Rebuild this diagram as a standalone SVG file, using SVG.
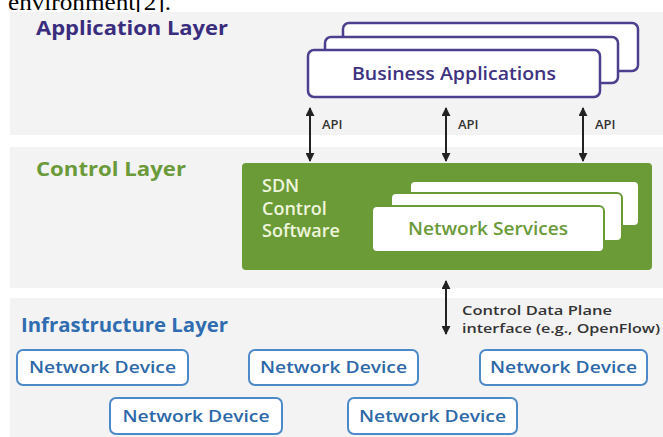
<svg xmlns="http://www.w3.org/2000/svg" width="663" height="437" viewBox="0 0 663 437">
<style>
.panel{fill:#f3f3f3}
.layer{font-family:"Open Sans","Liberation Sans",sans-serif;font-weight:700;font-size:19px}
.biz{fill:#fff;stroke:#4b3f8e;stroke-width:2.5}
.ns{fill:#fff;stroke:#6b9b37;stroke-width:2}
.dev{fill:#fff;stroke:#4d8ac9;stroke-width:2}
.devt{font-family:"Open Sans","Liberation Sans",sans-serif;font-weight:600;font-size:17px;fill:#2d68a8;text-anchor:middle}
.lbl{font-family:"Open Sans","Liberation Sans",sans-serif;font-weight:600;font-size:13px;fill:#333}
.arr{stroke:#222;stroke-width:2;fill:none;marker-start:url(#ah);marker-end:url(#ah)}
</style>
<defs>
<marker id="ah" viewBox="0 0 10 10" refX="9" refY="5" markerWidth="4.5" markerHeight="4.5" orient="auto-start-reverse">
<path d="M0,0 L10,5 L0,10 z" fill="#222"/>
</marker>
</defs>
<rect width="663" height="437" fill="#fff"/>
<text x="8" y="9.5" font-family="'Liberation Serif',serif" font-size="24" textLength="163" lengthAdjust="spacingAndGlyphs">environment[2].</text>

<g id="application-layer">
<rect class="panel" x="10" y="12" width="653" height="123"/>
<text class="layer" x="36" y="35" fill="#3a2d7d" textLength="192" lengthAdjust="spacingAndGlyphs">Application Layer</text>
</g>
<g id="control-layer">
<rect class="panel" x="10" y="147" width="653" height="141"/>
<text class="layer" x="36" y="176" fill="#6a9a3a" textLength="150" lengthAdjust="spacingAndGlyphs">Control Layer</text>
</g>
<g id="infrastructure-layer">
<rect class="panel" x="10" y="298" width="653" height="139"/>
<text class="layer" x="21" y="332" fill="#2f6cb0" textLength="207" lengthAdjust="spacingAndGlyphs">Infrastructure Layer</text>
</g>

<g id="business-applications">
<rect class="biz" x="343" y="23" width="295" height="48" rx="6"/>
<rect class="biz" x="325" y="37" width="293" height="46" rx="6"/>
<rect class="biz" x="308" y="50" width="292" height="47" rx="6"/>
<text x="454" y="80" text-anchor="middle" font-family="'Open Sans','Liberation Sans',sans-serif" font-weight="600" font-size="18" fill="#3e3280" textLength="204" lengthAdjust="spacingAndGlyphs">Business Applications</text>
</g>

<g id="sdn-control-software">
<rect x="242" y="163" width="410" height="107" rx="4" fill="#6b9b37"/>
<g font-family="'Open Sans','Liberation Sans',sans-serif" font-weight="600" font-size="18" fill="#eef5dc">
<text x="262" y="192">SDN</text>
<text x="262" y="215">Control</text>
<text x="262" y="237">Software</text>
</g>
</g>
<g id="network-services">
<rect class="ns" x="410" y="181" width="229" height="45" rx="5"/>
<rect class="ns" x="391" y="193" width="231" height="48" rx="5"/>
<rect class="ns" x="372" y="206" width="232" height="46" rx="5"/>
<text x="488" y="235" text-anchor="middle" font-family="'Open Sans','Liberation Sans',sans-serif" font-weight="600" font-size="18" fill="#6a9a3a" textLength="160" lengthAdjust="spacingAndGlyphs">Network Services</text>
</g>

<g id="devices">
<g id="dev1"><rect class="dev" x="17" y="350" width="171" height="35" rx="6"/><text class="devt" x="102.5" y="373" textLength="147" lengthAdjust="spacingAndGlyphs">Network Device</text></g>
<g id="dev2"><rect class="dev" x="249" y="350" width="169" height="35" rx="6"/><text class="devt" x="333.5" y="373" textLength="147" lengthAdjust="spacingAndGlyphs">Network Device</text></g>
<g id="dev3"><rect class="dev" x="480" y="350" width="167" height="35" rx="6"/><text class="devt" x="563.5" y="373" textLength="147" lengthAdjust="spacingAndGlyphs">Network Device</text></g>
<g id="dev4"><rect class="dev" x="110" y="398" width="172" height="36" rx="6"/><text class="devt" x="196" y="422" textLength="147" lengthAdjust="spacingAndGlyphs">Network Device</text></g>
<g id="dev5"><rect class="dev" x="348" y="398" width="169" height="36" rx="6"/><text class="devt" x="432.5" y="422" textLength="147" lengthAdjust="spacingAndGlyphs">Network Device</text></g>
</g>

<g id="connectors">
<line class="arr" x1="310" y1="108" x2="310" y2="161"/>
<line class="arr" x1="446" y1="108" x2="446" y2="161"/>
<line class="arr" x1="583" y1="108" x2="583" y2="161"/>
<line class="arr" x1="446" y1="281" x2="446" y2="334"/>
<text class="lbl" x="322" y="129">API</text>
<text class="lbl" x="458" y="129">API</text>
<text class="lbl" x="595" y="129">API</text>
<text class="lbl" x="462" y="315" textLength="150" lengthAdjust="spacingAndGlyphs">Control Data Plane</text>
<text class="lbl" x="462" y="333" textLength="198" lengthAdjust="spacingAndGlyphs">interface (e.g., OpenFlow)</text>
</g>
</svg>
